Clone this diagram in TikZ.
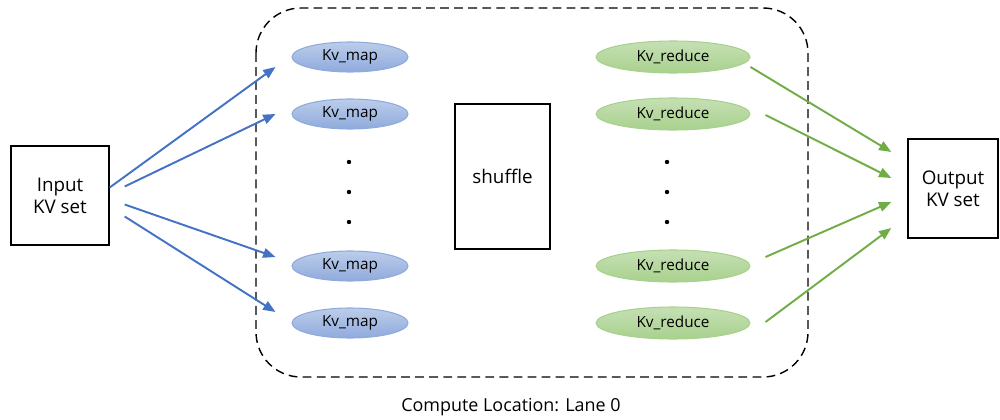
\documentclass[tikz,border=0pt]{standalone}
\usepackage{fontspec}
\setmainfont{Open Sans}
\usetikzlibrary{arrows.meta,calc,shapes.geometric}

\definecolor{maptop}{HTML}{BCCDEA}
\definecolor{mapbot}{HTML}{8FAADC}
\definecolor{mapline}{HTML}{8FAADC}
\definecolor{redtop}{HTML}{C5E0B4}
\definecolor{redbot}{HTML}{A9D18E}
\definecolor{redline}{HTML}{A9D18E}
\definecolor{bluearrow}{HTML}{4472C4}
\definecolor{greenarrow}{HTML}{70AD47}

\tikzset{
  kvbox/.style={draw, line width=0.8pt, align=center, font=\fontsize{10.7}{12.5}\selectfont},
  mapnode/.style={ellipse, draw=mapline, line width=0.6pt, top color=maptop, bottom color=mapbot,
    minimum width=2.32cm, minimum height=0.6cm, inner sep=0pt, font=\fontsize{8.7}{10}\selectfont},
  rednode/.style={ellipse, draw=redline, line width=0.6pt, top color=redtop, bottom color=redbot,
    minimum width=3.08cm, minimum height=0.64cm, inner sep=0pt, font=\fontsize{8.7}{10}\selectfont},
  maparrow/.style={bluearrow, line width=1.1pt, -{Triangle[length=7pt,width=5.5pt]}},
  redarrow/.style={greenarrow, line width=1.1pt, -{Triangle[length=7pt,width=5.5pt]}}
}

\begin{document}
\begin{tikzpicture}[x=0.02cm,y=-0.02cm]
    \useasboundingbox (0,0) rectangle (1000,419);

    % compute location
    \draw[line width=0.8pt, dash pattern=on 5pt off 3pt, rounded corners=0.9cm] (256,8) rectangle (808,377);
    \node[font=\fontsize{10.2}{12.5}\selectfont] (loc) at (511,407) {Compute Location: Lane 0};

    % input / output
    \node[kvbox, minimum width=1.96cm, minimum height=1.98cm] (in) at (60,195.5) {Input\\KV set};
    \node[kvbox, minimum width=1.8cm, minimum height=1.98cm] (out) at (953,188.5) {Output\\KV set};
    \node[kvbox, minimum width=1.9cm, minimum height=2.9cm] (shuf) at (502.5,176.5) {shuffle};

    % map side
    \node[mapnode] (m1) at (350,57) {Kv\_map};
    \node[mapnode] (m2) at (350,114) {Kv\_map};
    \node[mapnode] (m3) at (350,266) {Kv\_map};
    \node[mapnode] (m4) at (350,323) {Kv\_map};

    % reduce side
    \node[rednode] (r1) at (673,57) {Kv\_reduce};
    \node[rednode] (r2) at (673,114) {Kv\_reduce};
    \node[rednode] (r3) at (673,266) {Kv\_reduce};
    \node[rednode] (r4) at (673,323) {Kv\_reduce};

    \foreach \y in {162,192,222} {
      \fill (349,\y) circle (2.2);
      \fill (667,\y) circle (2.2);
    }

    % arrows
    \draw[maparrow] ($(in.east)+(0,-8)$) -- ($(m1.west)+(-16,10)$);
    \draw[maparrow] ($(in.east)+(15,-9)$) -- ($(m2.west)+(-16,0)$);
    \draw[maparrow] ($(in.east)+(15,9)$) -- ($(m3.west)+(-16,-9)$);
    \draw[maparrow] ($(in.east)+(15,21)$) -- ($(m4.west)+(-16,-11)$);

    \draw[redarrow] ($(r1.east)+(0,10)$) -- ($(out.west)+(-16,-36.5)$);
    \draw[redarrow] ($(r2.east)+(15,1)$) -- ($(out.west)+(-16,-10.5)$);
    \draw[redarrow] ($(r3.east)+(15,-9)$) -- ($(out.west)+(-16,13.5)$);
    \draw[redarrow] ($(r4.east)+(15,-1)$) -- ($(out.west)+(-16,39.5)$);

\end{tikzpicture}
\end{document}
